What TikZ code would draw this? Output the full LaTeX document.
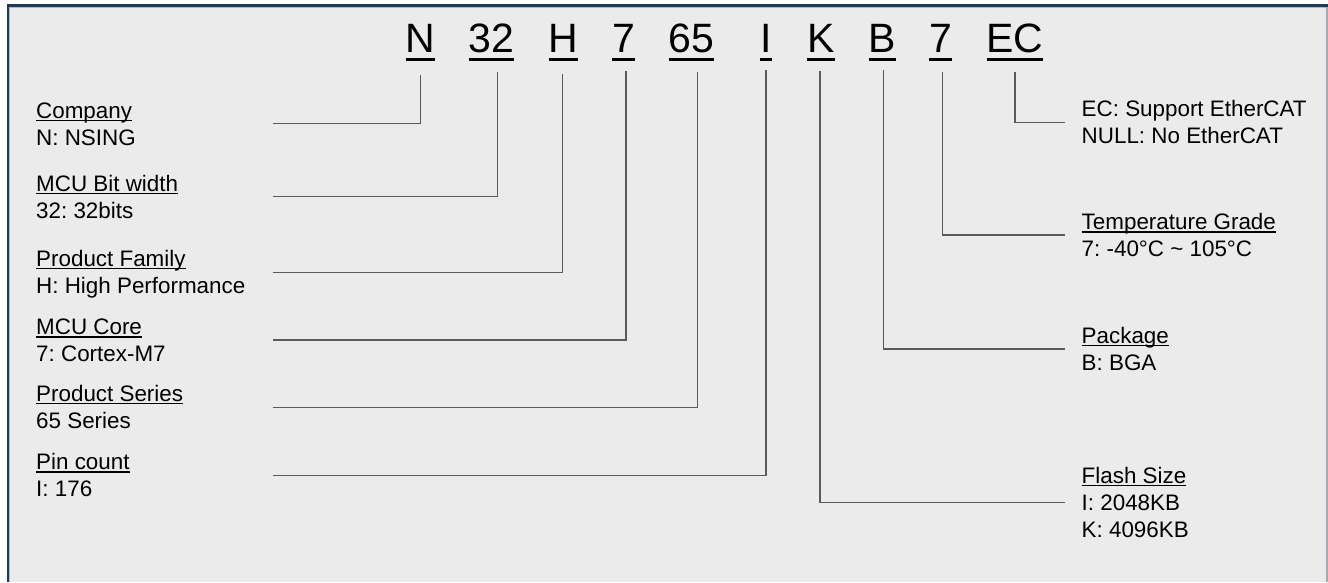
\documentclass[tikz,border=0pt]{standalone}
\usepackage{fontspec}
\setmainfont{Liberation Sans}
\usepackage{xcolor}
\definecolor{framenavy}{HTML}{1F3B53}
\definecolor{framelight}{HTML}{A9BCD0}
\definecolor{framegrey}{HTML}{A3AAB2}
\definecolor{panelgrey}{HTML}{EBEBEB}
\definecolor{leadgrey}{HTML}{5A5A5A}
\usepackage{tikz}
\usetikzlibrary{positioning, calc}
\frenchspacing

% underlined part code and underlined heading
\newcommand{\codeul}[1]{\setbox0\hbox{#1}\rlap{\rule[-8pt]{\wd0}{3pt}}\box0}
\newcommand{\hdul}[1]{\setbox0\hbox{#1}\rlap{\rule[-2.6pt]{\wd0}{1.1pt}}\box0}

\begin{document}
\begin{tikzpicture}[x=1pt, y=-1pt,
    code/.style={font=\fontsize{41}{41}\selectfont, inner sep=0pt, anchor=base},
    desc/.style={font=\fontsize{22.4}{26.8}\selectfont, inner sep=0pt, anchor=base west, align=left},
    lead/.style={leadgrey, line width=1.2pt}]
  \useasboundingbox (0,0) rectangle (1328,582);

  % Panel and frame
  \fill[panelgrey] (7,4) rectangle (1328,582);
  \draw[framelight, line width=0.9pt] (9.6,582) -- (9.6,7) -- (1326,7);
  \draw[framegrey, line width=1.6pt] (1327.2,7) -- (1327.2,582);
  \draw[framenavy, line width=2.6pt] (7.9,582) -- (7.9,5.3) -- (1328,5.3);

  % Part number
  \node[code] (cN)  at (420.5,52.7)  {\codeul{N}};
  \node[code] (c32) at (491.5,52.7)  {\codeul{32}};
  \node[code] (cH)  at (563.5,52.7)  {\codeul{H}};
  \node[code] (c7a) at (623.5,52.7)  {\codeul{7}};
  \node[code] (c65) at (691.5,52.7)  {\codeul{65}};
  \node[code] (cI)  at (766,52.7)    {\codeul{I}};
  \node[code] (cK)  at (821,52.7)    {\codeul{K}};
  \node[code] (cB)  at (882.5,52.7)  {\codeul{B}};
  \node[code] (c7b) at (940.5,52.7)  {\codeul{7}};
  \node[code] (cEC) at (1015,52.7)   {\codeul{EC}};

  % Left descriptions (placed by the baseline of the last line)
  \node[desc] (dCompany) at (36,145)   {\hdul{Company}\\N: NSING};
  \node[desc] (dWidth)   at (36,218)   {\hdul{MCU Bit width}\\32: 32bits};
  \node[desc] (dFamily)  at (36,293)   {\hdul{Product Family}\\H: High Performance};
  \node[desc] (dCore)    at (36,361.7) {\hdul{MCU Core}\\7: Cortex-M7};
  \node[desc] (dSeries)  at (36,428)   {\hdul{Product Series}\\65 Series};
  \node[desc] (dPin)     at (36,496.7) {\hdul{Pin count}\\I: 176};

  % Right descriptions
  \node[desc] (dEther) at (1081.5,143)   {EC: Support EtherCAT\\NULL: No EtherCAT};
  \node[desc] (dTemp)  at (1081.5,256.7) {\hdul{Temperature Grade}\\7: -40°C \textasciitilde{} 105°C};
  \node[desc] (dPkg)   at (1081.5,370)   {\hdul{Package}\\B: BGA};
  \node[desc] (dFlash) at (1081.5,537.3) {\hdul{Flash Size}\\I: 2048KB\\K: 4096KB};

  % Leader ends
  \coordinate (lCompany) at (272.7,123.3);
  \coordinate (lWidth)   at (272.7,196.7);
  \coordinate (lFamily)  at (272.7,272.3);
  \coordinate (lCore)    at (272.7,340);
  \coordinate (lSeries)  at (272.7,407.7);
  \coordinate (lPin)     at (272.7,475.7);
  \coordinate (lEther)   at (1065,122.3);
  \coordinate (lTemp)    at (1065,235);
  \coordinate (lPkg)     at (1065,349);
  \coordinate (lFlash)   at (1065,502.7);

  % Leaders
  \draw[lead] ([yshift=-14pt]cN.south) |- (lCompany);
  \draw[lead] ([xshift=6pt,yshift=-11pt]c32.south) |- (lWidth);
  \draw[lead] ([xshift=-1pt,yshift=-13pt]cH.south) |- (lFamily);
  \draw[lead] ([xshift=2.5pt,yshift=-10pt]c7a.south) |- (lCore);
  \draw[lead] ([xshift=6pt,yshift=-11pt]c65.south) |- (lSeries);
  \draw[lead] ([yshift=-9pt]cI.south) |- (lPin);
  \draw[lead] ([xshift=-1pt,yshift=-10pt]cK.south) |- (lFlash);
  \draw[lead] ([xshift=1pt,yshift=-9pt]cB.south) |- (lPkg);
  \draw[lead] ([xshift=2pt,yshift=-11pt]c7b.south) |- (lTemp);
  \draw[lead] ([yshift=-11pt]cEC.south) |- (lEther);
\end{tikzpicture}
\end{document}
